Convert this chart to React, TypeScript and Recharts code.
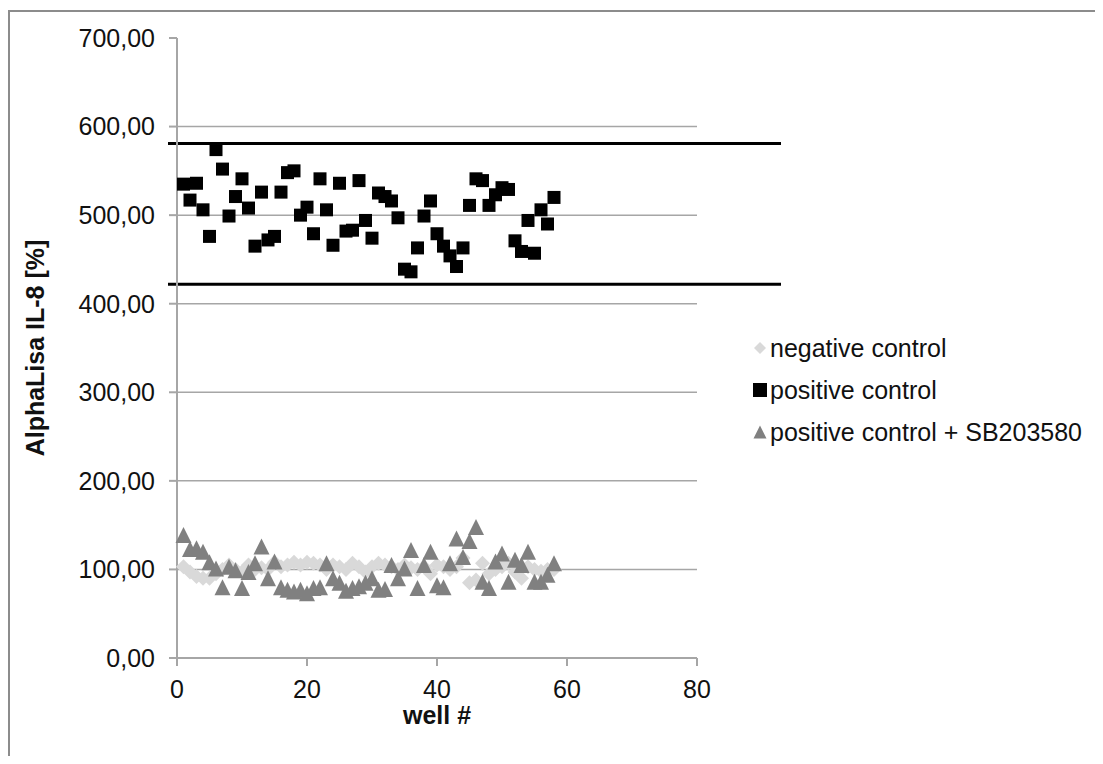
import { ScatterChart, Scatter, XAxis, YAxis, ReferenceLine, Legend } from 'recharts';

const negativeControl = [
  103, 97, 92, 90, 90, 95, 100, 105, 100, 97, 105, 100, 102, 100, 108, 103, 105, 108, 105, 108,
  107, 105, 100, 105, 103, 100, 107, 103, 97, 103, 107, 105, 103, 100, 105, 102, 100, 103, 95, 105,
  103, 100, 103, 113, 85, 88, 107, 95, 100, 103, 107, 97, 90, 103, 100, 98, 100, 100,
];

const positiveControl = [
  535, 517, 536, 506, 476, 574, 552, 499, 521, 541, 508, 465, 526, 472, 476, 526, 548, 550, 500, 509,
  479, 541, 506, 466, 536, 482, 483, 539, 494, 474, 525, 521, 516, 497, 439, 436, 463, 499, 516, 479,
  465, 454, 442, 463, 511, 541, 539, 511, 523, 531, 529, 471, 459, 494, 457, 506, 490, 520,
];

const positiveSB = [
  139, 123, 124, 120, 108, 101, 80, 103, 99, 79, 97, 107, 126, 90, 109, 80, 77, 75, 77, 73,
  79, 80, 107, 90, 85, 76, 79, 81, 85, 90, 77, 78, 105, 90, 101, 122, 79, 105, 120, 82,
  80, 107, 135, 114, 132, 148, 86, 79, 109, 118, 86, 111, 105, 120, 86, 86, 94, 107,
];

const wellTicks = [0, 20, 40, 60, 80];
const yTicks = [0, 100, 200, 300, 400, 500, 600, 700];
const gridValues = [100, 200, 300, 400, 500, 600];
const limits = [581, 422];

const toPoints = (vals: number[]) => vals.map((v, i) => ({ well: i + 1, value: v }));

const colors = {
  neg: '#d9d9d9',
  pos: '#000000',
  sb: '#808080',
  grid: '#a6a6a6',
};

const font = "'Liberation Sans', Arial, sans-serif";

const Diamond = ({ cx, cy, r = 7.5, fill }: any) => (
  <polygon points={`${cx},${cy - r} ${cx + r},${cy} ${cx},${cy + r} ${cx - r},${cy}`} fill={fill} />
);
const Square = ({ cx, cy, s = 13, fill }: any) => (
  <rect x={cx - s / 2} y={cy - s / 2} width={s} height={s} fill={fill} />
);
const Triangle = ({ cx, cy, w = 16, h = 16, fill }: any) => (
  <polygon points={`${cx},${cy - h / 2} ${cx + w / 2},${cy + h / 2} ${cx - w / 2},${cy + h / 2}`} fill={fill} />
);

const legendItems = [
  { name: 'negative control', kind: 'diamond', color: colors.neg },
  { name: 'positive control', kind: 'square', color: colors.pos },
  { name: 'positive control + SB203580', kind: 'triangle', color: colors.sb },
];

const LegendContent = () => (
  <div style={{ fontFamily: font, fontSize: 25, color: '#111' }}>
    {legendItems.map((it) => (
      <div key={it.name} style={{ height: 42, display: 'flex', alignItems: 'center', whiteSpace: 'nowrap' }}>
        <svg width={16} height={16} style={{ marginRight: 2 }}>
          {it.kind === 'diamond' && <Diamond cx={8} cy={8} r={6} fill={it.color} />}
          {it.kind === 'square' && <Square cx={8} cy={8} s={14} fill={it.color} />}
          {it.kind === 'triangle' && <Triangle cx={8} cy={8} w={13} h={13} fill={it.color} />}
        </svg>
        <span>{it.name}</span>
      </div>
    ))}
  </div>
);

const LimitLine = (props: any) => {
  const { x1, y1, x2, y2 } = props;
  return <line x1={x1 - 9} y1={y1} x2={x2 + 84} y2={y2} stroke="#000" strokeWidth={3} />;
};

export default function App() {
  return (
    <div style={{ position: 'relative', width: 1095, height: 748 }}>
      <div
        style={{
          position: 'absolute',
          left: 0,
          top: 2,
          width: 1095,
          height: 746,
          borderLeft: '2px solid #8c8c8c',
          borderTop: '2px solid #8c8c8c',
          boxSizing: 'border-box',
        }}
      />
      <ScatterChart width={1095} height={748} margin={{ top: 30, right: 406, bottom: 28, left: 0 }} style={{ position: 'absolute', left: 0, top: 0 }}>
        <XAxis
          type="number"
          dataKey="well"
          domain={[0, 80]}
          ticks={wellTicks}
          height={70}
          stroke={colors.grid}
          strokeWidth={2}
          tickSize={8}
          tickMargin={14}
          tick={{ fontSize: 25, fill: '#111', fontFamily: font }}
          label={{ value: 'well #', position: 'insideBottom', offset: 4, style: { fontSize: 25, fontWeight: 'bold', fill: '#111', fontFamily: font } }}
        />
        <YAxis
          type="number"
          dataKey="value"
          domain={[0, 700]}
          ticks={yTicks}
          width={169}
          stroke={colors.grid}
          strokeWidth={2}
          tickSize={8}
          tickMargin={14}
          tickFormatter={(v: number) => v.toFixed(2).replace('.', ',')}
          tick={{ fontSize: 25, fill: '#111', fontFamily: font }}
          label={{ value: 'AlphaLisa IL-8 [%]', angle: -90, position: 'insideLeft', offset: 27, style: { textAnchor: 'middle', fontSize: 25, fontWeight: 'bold', fill: '#111', fontFamily: font } }}
        />
        {gridValues.map((g) => (
          <ReferenceLine key={g} y={g} stroke={colors.grid} strokeWidth={1.5} />
        ))}
        {limits.map((l) => (
          <ReferenceLine key={l} y={l} shape={LimitLine} ifOverflow="visible" />
        ))}
        <Scatter name="negative control" data={toPoints(negativeControl)} isAnimationActive={false}
          shape={(p: any) => <Diamond cx={p.cx} cy={p.cy} fill={colors.neg} />} />
        <Scatter name="positive control" data={toPoints(positiveControl)} isAnimationActive={false}
          shape={(p: any) => <Square cx={p.cx} cy={p.cy} fill={colors.pos} />} />
        <Scatter name="positive control + SB203580" data={toPoints(positiveSB)} isAnimationActive={false}
          shape={(p: any) => <Triangle cx={p.cx} cy={p.cy} fill={colors.sb} />} />
        <Legend
          layout="vertical"
          align="center"
          verticalAlign="middle"
          content={<LegendContent />}
          wrapperStyle={{ left: 744, top: 319, width: 345, height: 126 }}
        />
      </ScatterChart>
    </div>
  );
}
